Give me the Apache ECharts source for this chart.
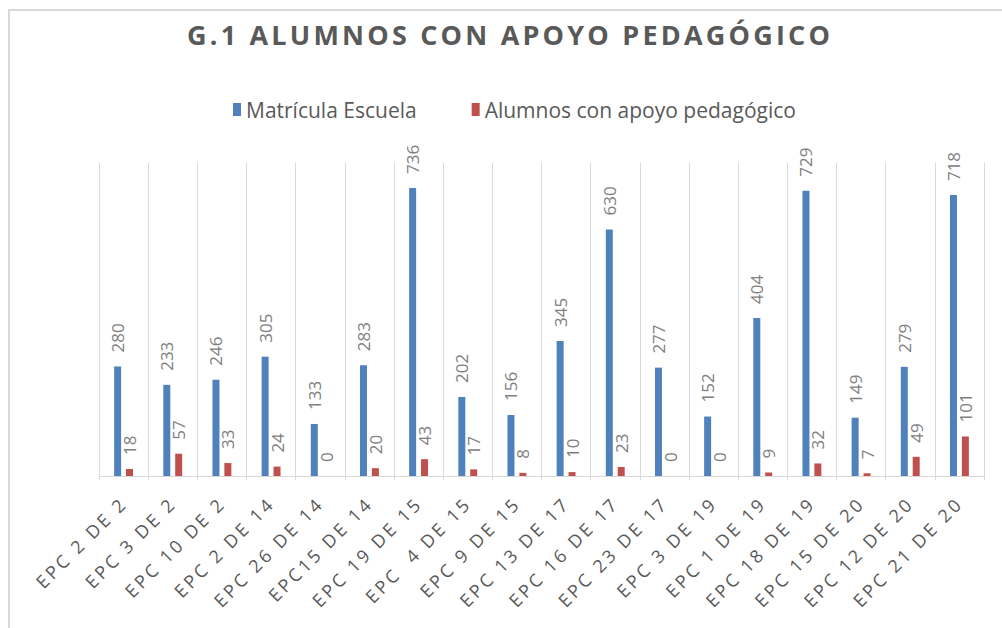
<!DOCTYPE html>
<html lang="es">
<head>
<meta charset="UTF-8">
<title>G.1 Alumnos con apoyo pedagógico</title>
<script src="https://cdn.jsdelivr.net/npm/echarts@6/dist/echarts.min.js"></script>
<style>
  html, body { margin: 0; padding: 0; background: #fff; }
  #main { width: 1002px; height: 628px; }
</style>
</head>
<body>
<div id="main"></div>
<script type="text/javascript">
  // datos
  var escuelas = ['EPC 2 DE 2', 'EPC 3 DE 2', 'EPC 10 DE 2', 'EPC 2 DE 14', 'EPC 26 DE 14', 'EPC15 DE 14',
    'EPC 19 DE 15', 'EPC  4 DE 15', 'EPC 9 DE 15', 'EPC 13 DE 17', 'EPC 16 DE 17', 'EPC 23 DE 17',
    'EPC 3 DE 19', 'EPC 1 DE 19', 'EPC 18 DE 19', 'EPC 15 DE 20', 'EPC 12 DE 20', 'EPC 21 DE 20'];
  var matricula = [280, 233, 246, 305, 133, 283, 736, 202, 156, 345, 630, 277, 152, 404, 729, 149, 279, 718];
  var apoyo = [18, 57, 33, 24, 0, 20, 43, 17, 8, 10, 23, 0, 0, 9, 32, 7, 49, 101];
  var titulo = 'G.1 ALUMNOS CON APOYO PEDAGÓGICO';

  var myChart = echarts.init(document.getElementById('main'), null, { renderer: 'svg' });

  var etiqueta = {
    show: true,
    position: 'top',
    rotate: 90,
    align: 'left',
    verticalAlign: 'middle',
    distance: 14,
    color: '#808080',
    fontFamily: 'Open Sans',
    fontSize: 17
  };

  var option = {
    animation: false,
    backgroundColor: '#fff',
    title: {
      text: titulo,
      left: 182,
      top: 16,
      textStyle: {
        color: '#595959',
        fontFamily: 'Open Sans',
        fontWeight: 'bold',
        fontSize: 27
      }
    },
    legend: {
      top: 94,
      left: 228,
      itemWidth: 8,
      itemHeight: 13,
      itemGap: 55,
      icon: 'rect',
      textStyle: {
        color: '#595959',
        fontFamily: 'Open Sans',
        fontSize: 21
      },
      data: ['Matrícula Escuela', 'Alumnos con apoyo pedagógico']
    },
    graphic: [{
      type: 'rect',
      shape: { x: 9, y: 10, width: 1100, height: 800 },
      style: { fill: 'none', stroke: '#d9d9d9', lineWidth: 2 },
      silent: true
    }],
    grid: {
      left: 99,
      right: 18,
      top: 163,
      bottom: 152
    },
    xAxis: {
      type: 'category',
      data: escuelas,
      axisLine: { lineStyle: { color: '#d9d9d9' } },
      axisTick: { show: true, length: 4, lineStyle: { color: '#d9d9d9' } },
      splitLine: { show: true, lineStyle: { color: '#d9d9d9', width: 1 } },
      axisLabel: {
        interval: 0,
        rotate: 45,
        margin: 24,
        color: '#595959',
        fontFamily: 'Open Sans',
        fontSize: 18
      }
    },
    yAxis: {
      type: 'value',
      min: 0,
      max: 800,
      show: false,
      splitLine: { show: false }
    },
    series: [{
      name: 'Matrícula Escuela',
      type: 'bar',
      data: matricula,
      barWidth: 7,
      barGap: '70%',
      itemStyle: { color: '#4f81bd' },
      label: etiqueta
    }, {
      name: 'Alumnos con apoyo pedagógico',
      type: 'bar',
      data: apoyo,
      barWidth: 7,
      barGap: '70%',
      itemStyle: { color: '#c0504d' },
      label: etiqueta
    }]
  };

  // espaciado de letras como en el original (título y nombres de escuela)
  function espaciar() {
    var textos = document.querySelectorAll('#main text');
    for (var i = 0; i < textos.length; i++) {
      var t = textos[i].textContent;
      if (t === titulo) {
        textos[i].setAttribute('letter-spacing', '3.2');
      } else if (escuelas.indexOf(t) >= 0) {
        textos[i].setAttribute('letter-spacing', '3');
      }
    }
  }
  myChart.on('finished', espaciar);
  myChart.setOption(option);
  espaciar();
</script>
</body>
</html>
